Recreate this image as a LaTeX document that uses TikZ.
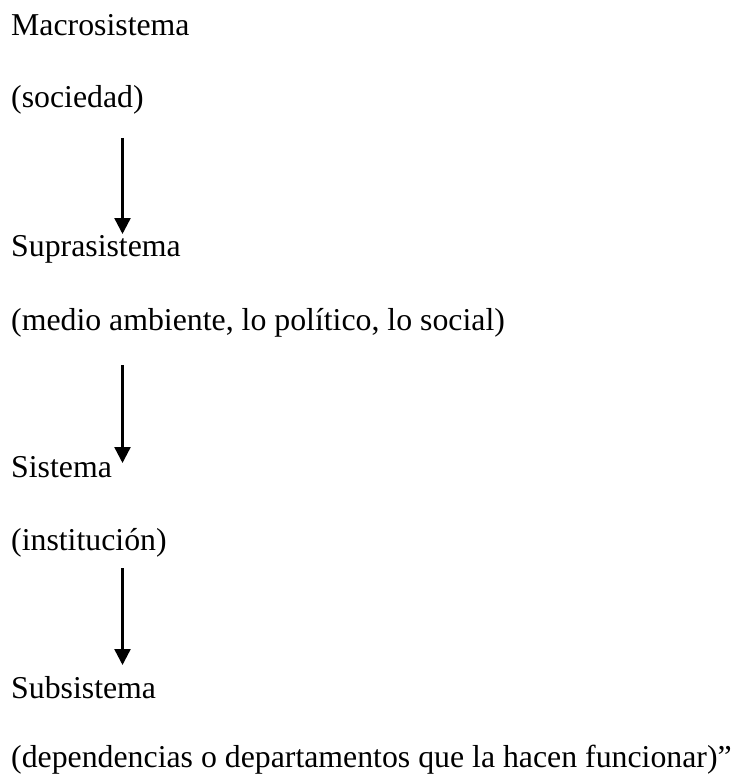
\documentclass[tikz,border=0pt]{standalone}
\usepackage{fontspec}
\setmainfont{Liberation Serif}
\usetikzlibrary{arrows.meta}
\begin{document}
\begin{tikzpicture}[x=1pt,y=-1pt,
  lbl/.style={anchor=base west,inner sep=0pt,font=\fontsize{31.8}{38}\selectfont},
  conn/.style={line width=2.4pt,-{Triangle[width=16pt,length=16pt]}}]
\useasboundingbox (0,0) rectangle (739,778);
\node[lbl] (mac) at (11,36) {Macrosistema};
\node[lbl] (soc) at (11,108) {(sociedad)};
\node[lbl] (sup) at (11,256) {Suprasistema};
\node[lbl] (med) at (11,330) {(medio ambiente, lo político, lo social)};
\node[lbl] (sis) at (11,477) {Sistema};
\node[lbl] (ins) at (11,550) {(institución)};
\node[lbl] (sub) at (11,698) {Subsistema};
\node[lbl] (dep) at (11,767) {(dependencias o departamentos que la hacen funcionar)”};
\coordinate (a1s) at (122.5,138);
\coordinate (a1e) at (122.5,234);
\coordinate (a2s) at (122.5,365);
\coordinate (a2e) at (122.5,463);
\coordinate (a3s) at (122.5,568);
\coordinate (a3e) at (122.5,665);
\draw[conn] (a1s) -- (a1e);
\draw[conn] (a2s) -- (a2e);
\draw[conn] (a3s) -- (a3e);
\end{tikzpicture}
\end{document}
